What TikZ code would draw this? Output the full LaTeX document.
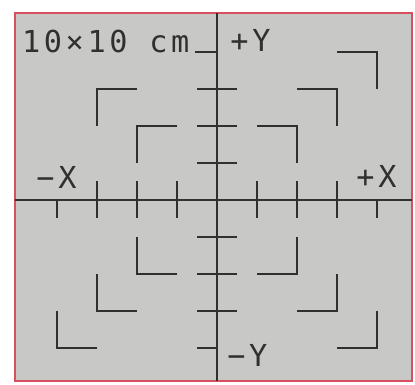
\documentclass[tikz,border=0pt]{standalone}
\usepackage{fontspec}
\usepackage{xcolor}
\usepackage{tikz}
\newfontfamily\plotfont[LetterSpace=12]{DejaVu Sans Mono}
\definecolor{framered}{RGB}{214,80,94}
\definecolor{platebg}{RGB}{200,200,198}
\definecolor{inkline}{RGB}{48,48,48}
\tikzset{
gdframe/.style={draw=framered,line width=1.1pt,fill=platebg},
gdaxis/.style={draw=inkline,line width=0.85pt},
gdtick/.style={draw=inkline,line width=0.85pt},
gdcorner/.style={draw=inkline,line width=0.85pt,line join=miter},
gdlabel/.style={font=\plotfont\fontsize{21.5}{21.5}\selectfont,text=inkline,inner sep=0pt,anchor=base west}
}

\begin{document}
\begin{tikzpicture}[
x=1cm,
y=0.925cm
]
\useasboundingbox (-5.425,-5.0) rectangle (4.95,5.405);
\coordinate (sw) at (-5.05,-4.89);
\coordinate (ne) at (4.875,5.054);
\draw[gdframe] (sw) rectangle (ne);
% axes
\draw[gdaxis] (sw|-0,0) -- (ne|-0,0);
\draw[gdaxis] (0,0|-sw) -- (0,0|-ne);
% ticks on the x axis
\draw[gdtick] (-3,-0.5) -- (-3,0.5);
\draw[gdtick] (-2,-0.5) -- (-2,0.5);
\draw[gdtick] (-1,-0.5) -- (-1,0.5);
\draw[gdtick] (1,-0.5) -- (1,0.5);
\draw[gdtick] (2,-0.5) -- (2,0.5);
\draw[gdtick] (3,-0.5) -- (3,0.5);
\draw[gdtick] (-4,-0.5) -- (-4,0);
\draw[gdtick] (4,-0.5) -- (4,0);
% ticks on the y axis
\draw[gdtick] (-0.5,-3) -- (0.5,-3);
\draw[gdtick] (-0.5,-2) -- (0.5,-2);
\draw[gdtick] (-0.5,-1) -- (0.5,-1);
\draw[gdtick] (-0.5,1) -- (0.5,1);
\draw[gdtick] (-0.5,2) -- (0.5,2);
\draw[gdtick] (-0.5,3) -- (0.5,3);
\draw[gdtick] (-0.55,4) -- (0,4);
\draw[gdtick] (-0.5,-4) -- (0,-4);
% outer corners
\draw[gdcorner] (3,4) -- (4,4) -- (4,3);
\draw[gdcorner] (-4,-3) -- (-4,-4) -- (-3,-4);
\draw[gdcorner] (3,-4) -- (4,-4) -- (4,-3);
% middle corners
\draw[gdcorner] (-3,2) -- (-3,3) -- (-2,3);
\draw[gdcorner] (2,3) -- (3,3) -- (3,2);
\draw[gdcorner] (-3,-2) -- (-3,-3) -- (-2,-3);
\draw[gdcorner] (2,-3) -- (3,-3) -- (3,-2);
% inner corners
\draw[gdcorner] (-2,1) -- (-2,2) -- (-1,2);
\draw[gdcorner] (1,2) -- (2,2) -- (2,1);
\draw[gdcorner] (-2,-1) -- (-2,-2) -- (-1,-2);
\draw[gdcorner] (1,-2) -- (2,-2) -- (2,-1);
% labels
\node[gdlabel] (sizelbl) at (-4.88,3.98) {10×10 cm};
\node[gdlabel] (negxlbl) at (-4.52,0.32) {−X};
\node[gdlabel] (posxlbl) at (3.48,0.35) {+X};
\node[gdlabel] (posylbl) at (0.33,4.0) {+Y};
\node[gdlabel] (negylbl) at (0.25,-4.51) {−Y};
\end{tikzpicture}
\end{document}
